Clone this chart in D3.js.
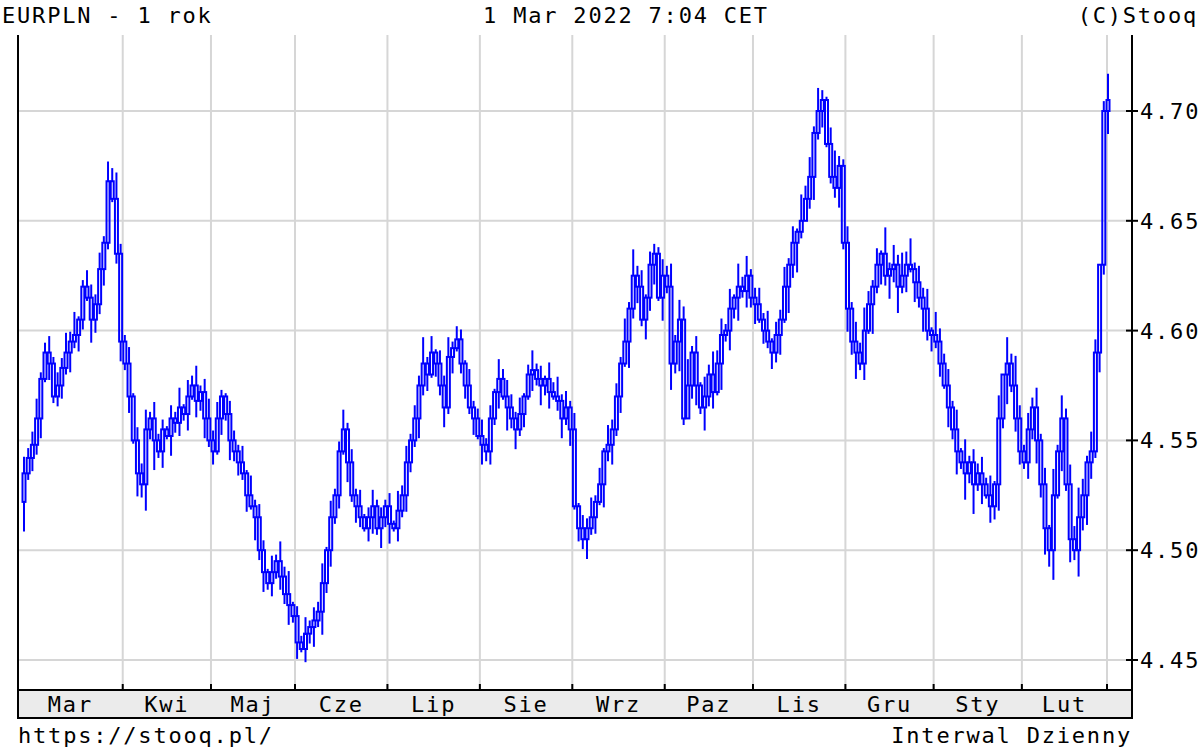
<!DOCTYPE html><html><head><meta charset="utf-8"><script src="https://cdn.jsdelivr.net/npm/d3@7"></script>
<style>body{margin:0;background:#fff}text{font-family:"DejaVu Sans Mono",monospace;letter-spacing:1.8px}</style></head><body><svg id="c" width="1200" height="750"></svg><script>
const months=["Mar","Kwi","Maj","Cze","Lip","Sie","Wrz","Paz","Lis","Gru","Sty","Lut"];
const closeByMonth=[
[4.535,4.542,4.548,4.560,4.578,4.590,4.585,4.570,4.575,4.583,4.590,4.595,4.598,4.605,4.620,4.615,4.605,4.612,4.628,4.640,4.668,4.660,4.635,4.595],
[4.585,4.570,4.550,4.535,4.530,4.555,4.560,4.550,4.545,4.555,4.552,4.560,4.558,4.565,4.562,4.570,4.575,4.568,4.572,4.560,4.550],
[4.545,4.560,4.570,4.562,4.550,4.545,4.540,4.535,4.525,4.520,4.515,4.500,4.490,4.485,4.490,4.495,4.488,4.480,4.475,4.470],
[4.458,4.455,4.462,4.465,4.468,4.472,4.485,4.500,4.515,4.525,4.545,4.555,4.540,4.525,4.520,4.515,4.510,4.515,4.520,4.510,4.515,4.520],
[4.512,4.510,4.518,4.525,4.540,4.550,4.560,4.575,4.585,4.580,4.590,4.585,4.575,4.565,4.588,4.592,4.596,4.585,4.575,4.565,4.560,4.552],
[4.548,4.545,4.560,4.572,4.578,4.570,4.565,4.560,4.555,4.562,4.570,4.580,4.582,4.578,4.575,4.578,4.572,4.570,4.568,4.560,4.565,4.555],
[4.520,4.510,4.505,4.510,4.515,4.522,4.530,4.545,4.548,4.555,4.570,4.585,4.595,4.610,4.625,4.620,4.605,4.615,4.630,4.635,4.615,4.625],
[4.620,4.585,4.595,4.605,4.560,4.575,4.590,4.575,4.565,4.570,4.580,4.572,4.585,4.598,4.600,4.610,4.615,4.620,4.618,4.625,4.615],
[4.612,4.605,4.600,4.595,4.590,4.598,4.605,4.620,4.630,4.640,4.645,4.650,4.660,4.670,4.690,4.700,4.705,4.685,4.670,4.665,4.675,4.640],
[4.610,4.595,4.590,4.585,4.600,4.612,4.620,4.630,4.635,4.625,4.628,4.630,4.620,4.625,4.630,4.628,4.622,4.615,4.610,4.600,4.598],
[4.595,4.585,4.575,4.565,4.555,4.545,4.540,4.535,4.540,4.530,4.535,4.530,4.525,4.520,4.530,4.560,4.580,4.585,4.575,4.560,4.545],
[4.540,4.555,4.565,4.550,4.530,4.510,4.500,4.525,4.545,4.560,4.530,4.505,4.500,4.515,4.525,4.540,4.545,4.590,4.630,4.700,4.705]];
// wick extensions in thousandths, one digit per day
const hiWick=["53462352436371254352648","325143625231426153624","63521432516243152637","1325243615236242513523","2416352438251436243152","3524163542513624153625","2514362516342728351432","5372648251637452617362","3526143625184627315832","5263742518263748253617","4352617243526170839425","3625182736495264038292"];
const loWick=["9243615234262531743521","3625174839251634251","53624152634251736242","4362514362735241625314","5263614253263514362513","4251634251736241526351","3625143625173625183526","4617283920462735182637","2536142536184920372512","3627482519263748251637","3524163728392615483924","4253748591627384952637"];
const yTicks=[4.45,4.50,4.55,4.60,4.65,4.70];
const header=["EURPLN - 1 rok","1 Mar 2022 7:04 CET","(C)Stooq"];
const footer=["https://stooq.pl/","Interwal Dzienny"];

const closes=closeByMonth.flat();
const monthStart=[];let acc=0;closeByMonth.forEach(m=>{monthStart.push(acc);acc+=m.length;});
const hw=hiWick.join(""),lw=loWick.join("");
const data=closes.map((c,i)=>{const o=i?closes[i-1]:4.522;const h=Math.max(o,c)+1.5*(+(hw[i]||2))/1000;const l=Math.min(o,c)-1.5*(+(lw[i]||2))/1000;return{i,o,c,h,l};});

const svg=d3.select("#c");
const L=18,R=1132,T=35,B=690;
const x=d3.scaleLinear().domain([0,closes.length-1]).range([24,1108]);
const y=d3.scaleLinear().domain([4.45,4.70]).range([660,111]);
const g=svg.append("g");
g.selectAll(".hg").data(yTicks).join("line").attr("x1",L).attr("x2",R).attr("y1",d=>y(d)).attr("y2",d=>y(d)).attr("stroke","#d6d6d6").attr("stroke-width",2);
const bounds=monthStart.slice(1).map(s=>(x(s-1)+x(s))/2);
bounds.push(x(closes.length-1)-1);
g.selectAll(".vg").data(bounds).join("line").attr("x1",d=>d).attr("x2",d=>d).attr("y1",T).attr("y2",B).attr("stroke","#d6d6d6").attr("stroke-width",2);
const cg=svg.append("g").attr("stroke","#0000ff").attr("stroke-width",2).attr("fill","none");
data.forEach(d=>{const xc=x(d.i);
 cg.append("line").attr("x1",xc).attr("x2",xc).attr("y1",y(d.h)).attr("y2",y(Math.max(d.o,d.c)));
 cg.append("line").attr("x1",xc).attr("x2",xc).attr("y1",y(Math.min(d.o,d.c))).attr("y2",y(d.l));
 cg.append("rect").attr("x",xc-1.5).attr("width",3).attr("y",y(Math.max(d.o,d.c))).attr("height",Math.max(0.5,Math.abs(y(d.o)-y(d.c))));
});
svg.append("rect").attr("x",L).attr("y",B).attr("width",R-L).attr("height",28).attr("fill","#ebebeb").attr("stroke","#000").attr("stroke-width",2);
svg.append("line").attr("x1",L).attr("x2",L).attr("y1",T).attr("y2",B).attr("stroke","#000").attr("stroke-width",2);
svg.append("line").attr("x1",R).attr("x2",R).attr("y1",T).attr("y2",B).attr("stroke","#000").attr("stroke-width",2);
svg.selectAll(".mt").data(bounds).join("line").attr("x1",d=>d).attr("x2",d=>d).attr("y1",B-6).attr("y2",B).attr("stroke","#000").attr("stroke-width",2);
const edges=[L,...bounds];
svg.selectAll(".ml").data(months).join("text").attr("x",(d,i)=>(edges[i]+edges[i+1])/2).attr("y",712).attr("text-anchor","middle").attr("font-size",22).text(d=>d);
svg.selectAll(".yt").data(yTicks).join("line").attr("x1",R-6).attr("x2",R+6).attr("y1",d=>y(d)).attr("y2",d=>y(d)).attr("stroke","#000").attr("stroke-width",2);
svg.selectAll(".yl").data(yTicks).join("text").attr("x",1140).attr("y",d=>y(d)+8).attr("font-size",22).text(d=>d.toFixed(2));
svg.append("text").attr("x",2).attr("y",23).attr("font-size",22).text(header[0]);
svg.append("text").attr("x",626).attr("y",23).attr("text-anchor","middle").attr("font-size",22).text(header[1]);
svg.append("text").attr("x",1198).attr("y",23).attr("text-anchor","end").attr("font-size",22).text(header[2]);
svg.append("text").attr("x",18).attr("y",743).attr("font-size",22).text(footer[0]);
svg.append("text").attr("x",1132).attr("y",743).attr("text-anchor","end").attr("font-size",22).text(footer[1]);
</script></body></html>
